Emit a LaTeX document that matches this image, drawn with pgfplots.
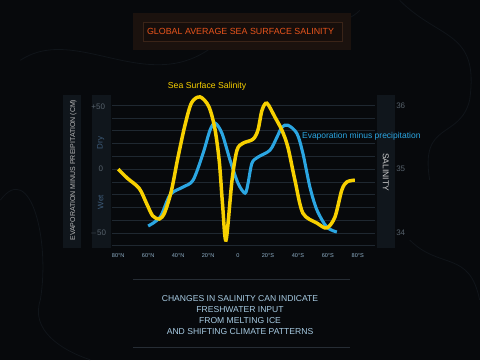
\documentclass[border=0pt]{standalone}
\usepackage{fontspec}
\setmainfont{Liberation Sans}
\usepackage{pgfplots}
\pgfplotsset{compat=1.18}
\usepackage{pgfplotstable}
\definecolor{bg}{HTML}{07090C}
\definecolor{panel}{HTML}{10161C}
\definecolor{gridc}{HTML}{1F2831}
\definecolor{sss}{HTML}{F7D000}
\definecolor{emp}{HTML}{2BA6E2}
\definecolor{titlec}{HTML}{E8541C}
\definecolor{titlebox}{HTML}{1B120E}
\definecolor{titleedge}{HTML}{3A2418}
\definecolor{ticklab}{HTML}{8FB0C8}
\definecolor{dimlab}{HTML}{56616B}
\definecolor{drywet}{HTML}{3E5C7A}
\definecolor{notec}{HTML}{A8CCE4}
\definecolor{linec}{HTML}{262D35}
\definecolor{contour}{HTML}{10151A}

\pgfplotstableread{
lat v
-80 0
-74 -7
-66 -15
-61 -27
-57 -36.5
-52.5 -39
-49 -34
-44.5 -17
-40.3 8
-35.5 34
-31 52
-25.3 56.5
-19.5 49
-15.5 32
-12.5 6
-10.3 -28
-8 -55.5
-4 -8.6
-0.7 14.8
3.3 20.3
10 23.4
13.3 30.5
16 46
19.3 51.6
24.7 40.6
29.3 30.5
33.3 17.2
38 -8.6
43.3 -34.4
52.7 -42.2
59.3 -46
64.7 -37.5
69.3 -16.4
72.7 -10
78 -8.6
}\salinity

\pgfplotstableread{
lat v
-60 -44.5
-52 -37.5
-45.3 -20
-36.7 -14
-30 -8.6
-23.3 12.5
-18.7 30.5
-15.3 36
-10.7 28
-5.3 7
0 -11
4.7 -18.8
6.7 -11
9.3 4.7
13.3 9.4
21.3 14.8
26 25
29.3 32.8
33.3 34.4
39.3 28
43.3 12.5
48 -14
52.7 -32
59.3 -45.3
66 -49.2
}\evap

\begin{document}
\begin{tikzpicture}[x=1pt,y=1pt]
\fill[bg] (0,0) rectangle (480,360);
% faint background contours
\draw[contour, line width=0.8pt] (20,300) .. controls (80,340) and (160,250) .. (230,330) .. controls (280,360) and (330,320) .. (360,350);
\draw[contour, line width=0.8pt] (400,360) .. controls (440,320) and (480,330) .. (470,260) .. controls (460,220) and (420,240) .. (430,180);
\draw[contour, line width=0.8pt] (0,160) .. controls (30,200) and (50,120) .. (40,60) .. controls (30,30) and (60,10) .. (90,0);
\draw[contour, line width=0.8pt] (410,120) .. controls (440,90) and (470,110) .. (480,60);
% title box
\fill[titlebox] (133,310) rectangle (351,347);
\draw[titleedge, line width=0.6pt, fill=titlebox!80!black] (143,319) rectangle (342,338);
\node[text=titlec, font=\fontsize{8.9}{10}\selectfont] at (240.5,328.8) {GLOBAL AVERAGE SEA SURFACE SALINITY};
% side panels
\fill[panel] (63,112) rectangle (81,265);
\fill[panel] (92,112) rectangle (111,265);
\fill[panel] (377,112) rectangle (395,265);
\node[rotate=90, text=white!72!black, font=\fontsize{7}{8}\selectfont] at (73,190) {EVAPORATION MINUS PREIPITATION (CM)};
\node[text=dimlab, font=\fontsize{8}{9}\selectfont] at (98,253) {+50};
\node[text=dimlab, font=\fontsize{8}{9}\selectfont] at (100.5,191.5) {0};
\node[text=dimlab, font=\fontsize{8}{9}\selectfont] at (98,127) {$-$50};
\node[rotate=90, text=drywet, font=\fontsize{8}{9}\selectfont] at (100.5,217) {Dry};
\node[rotate=90, text=drywet, font=\fontsize{8}{9}\selectfont] at (100.5,158) {Wet};
\node[rotate=-90, text=white!80!black, font=\fontsize{8.5}{9}\selectfont] at (386,188) {SALINITY};
\node[text=dimlab, font=\fontsize{8}{9}\selectfont] at (401,254) {36};
\node[text=dimlab, font=\fontsize{8}{9}\selectfont] at (401,191) {35};
\node[text=dimlab, font=\fontsize{8}{9}\selectfont] at (401,127) {34};
\begin{axis}[
  at={(112pt,111.6pt)}, anchor=south west,
  scale only axis, width=263pt, height=156.16pt,
  xmin=-84, xmax=91.33, ymin=-62, ymax=60,
  axis line style={draw=none}, tick style={draw=none},
  xtick={-80,-60,-40,-20,0,20,40,60,80},
  xticklabels={80°N,60°N,40°N,20°N,0,20°S,40°S,60°S,80°S},
  xticklabel style={text=ticklab, font=\fontsize{5.6}{6}\selectfont, yshift=-1.5pt},
  ytick={-60,-50,...,50}, yticklabels={,,,,,,,,,,,,},
  ymajorgrids, major grid style={gridc, line width=0.7pt},
  clip=false,
]
\addplot[emp, line width=3.1pt, smooth] table[x=lat,y=v] {\evap};
\addplot[sss, line width=3.5pt, smooth] table[x=lat,y=v] {\salinity};
\end{axis}
\node[text=sss, font=\fontsize{8.7}{10}\selectfont] at (207,274) {Sea Surface Salinity};
\node[text=emp, anchor=west, inner sep=0pt, font=\fontsize{8.5}{10}\selectfont] at (302,224) {Evaporation minus precipitation};
% bottom note
\draw[linec, line width=0.6pt] (133,81) -- (350,81);
\draw[linec, line width=0.6pt] (133,13) -- (350,13);
\node[text=notec, align=center, font=\fontsize{8.6}{11}\selectfont] at (240,45) {CHANGES IN SALINITY CAN INDICATE\\FRESHWATER INPUT\\FROM MELTING ICE\\AND SHIFTING CLIMATE PATTERNS};
\end{tikzpicture}
\end{document}
